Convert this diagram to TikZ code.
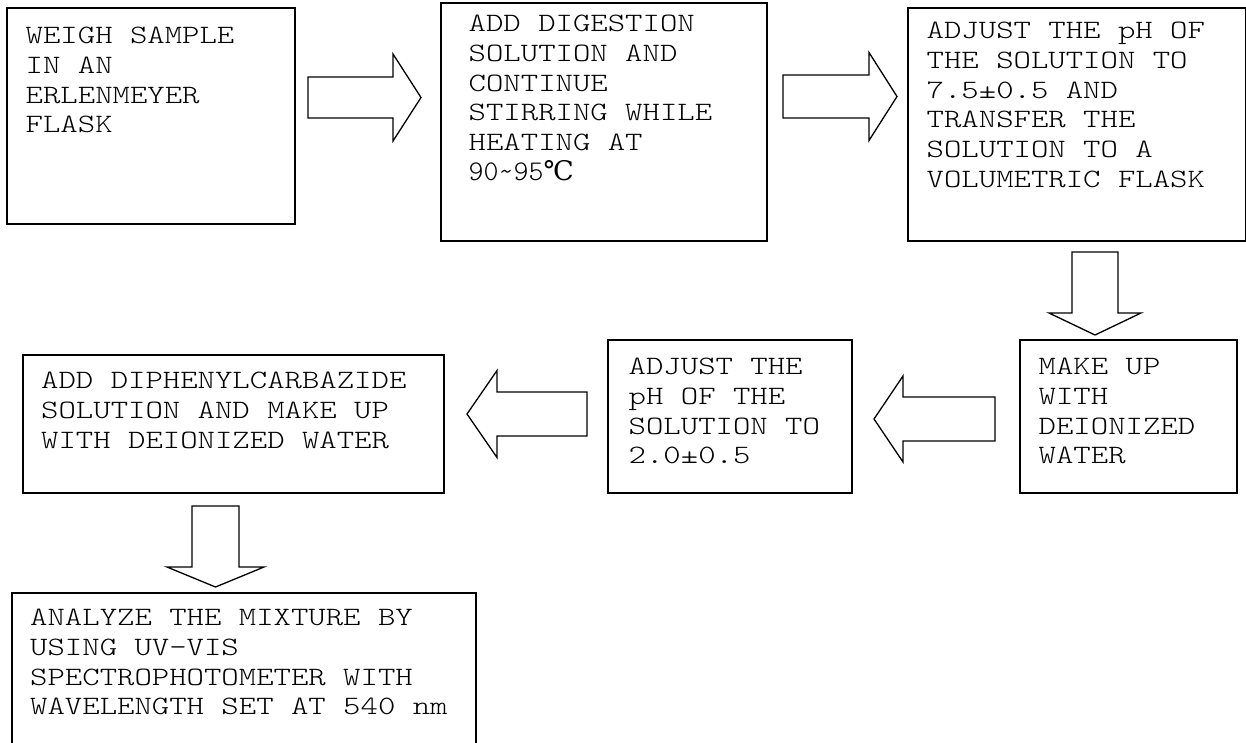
\documentclass[tikz,border=0pt]{standalone}
\usepackage{fontspec}
\newfontfamily\cour[FakeStretch=1.25]{lmmonolt10-regular.otf}
\newfontfamily\courn{lmmonolt10-regular.otf}
\newfontfamily\degfont{DejaVu Serif}
\tikzset{
  box/.style={draw, line width=1.6pt, rectangle, inner sep=0pt, anchor=north west},
  txt/.style={anchor=north west, inner sep=0pt, align=left, font=\fontsize{26.5}{29.7}\cour},
  arrowline/.style={line width=1.3pt, line join=miter},
}
% #1 tail coordinate, #2 angle, #3 length, #4 half shaft, #5 half head, #6 head length
\newcommand\blockarrow[6]{%
  \begin{scope}[shift={(#1)}, rotate=#2]
    \draw[arrowline] (0,-#4) -- ({#3-#6},-#4) -- ({#3-#6},-#5) -- (#3,0)
      -- ({#3-#6},#5) -- ({#3-#6},#4) -- (0,#4) -- cycle;
  \end{scope}}
\begin{document}
\begin{tikzpicture}[x=1pt, y=-1pt]
\clip (0,0) rectangle (1246,742);
\fill[white] (0,0) rectangle (1246,742);

% boxes
\node[box, minimum width=288, minimum height=216] (b1) at (6,7) {};
\node[box, minimum width=326, minimum height=238] (b2) at (440,2) {};
\node[box, minimum width=338, minimum height=233] (b3) at (907,7) {};
\node[box, minimum width=217, minimum height=153] (b4) at (1019,339) {};
\node[box, minimum width=244, minimum height=153] (b5) at (607,339) {};
\node[box, minimum width=421, minimum height=138] (b6) at (22,354) {};
\node[box, minimum width=464, minimum height=175] (b7) at (11,592) {};

% texts
\node[txt] (t1) at (25.5,27) {WEIGH SAMPLE\\IN AN\\ERLENMEYER\\FLASK};
\node[txt] (t2) at (468.5,15) {ADD DIGESTION\\SOLUTION AND\\CONTINUE\\STIRRING WHILE\\HEATING AT\\{\fontsize{28.5}{29.7}\courn 90\textasciitilde95}{\degfont\fontsize{27}{29.7}\selectfont ℃}};
\node[txt] (t3) at (926.5,22) {ADJUST THE pH OF\\THE SOLUTION TO\\7.5±0.5 AND\\TRANSFER THE\\SOLUTION TO A\\VOLUMETRIC FLASK};
\node[txt] (t4) at (1038.5,358) {MAKE UP\\WITH\\DEIONIZED\\WATER};
\node[txt] (t5) at (628.5,358) {ADJUST THE\\pH OF THE\\SOLUTION TO\\2.0±0.5};
\node[txt] (t6) at (41,372) {ADD DIPHENYLCARBAZIDE\\SOLUTION AND MAKE UP\\WITH DEIONIZED WATER};
\node[txt] (t7) at (30,609) {ANALYZE THE MIXTURE BY\\USING UV-VIS\\SPECTROPHOTOMETER WITH\\WAVELENGTH SET AT 540 nm};

% arrow tails
\coordinate (a1) at (308,97.5);
\coordinate (a2) at (783,96.5);
\coordinate (a3) at (1095,252);
\coordinate (a4) at (995,419);
\coordinate (a5) at (587,414);
\coordinate (a6) at (215.5,506);

\blockarrow{a1}{0}{113}{20.5}{43.5}{28}
\blockarrow{a2}{0}{114}{21.5}{44}{28}
\blockarrow{a3}{-90}{83}{23}{46}{22}
\blockarrow{a4}{180}{121}{22}{43}{29}
\blockarrow{a5}{180}{120}{22}{43.5}{30}
\blockarrow{a6}{-90}{81}{23.5}{48.5}{20}
\end{tikzpicture}
\end{document}
